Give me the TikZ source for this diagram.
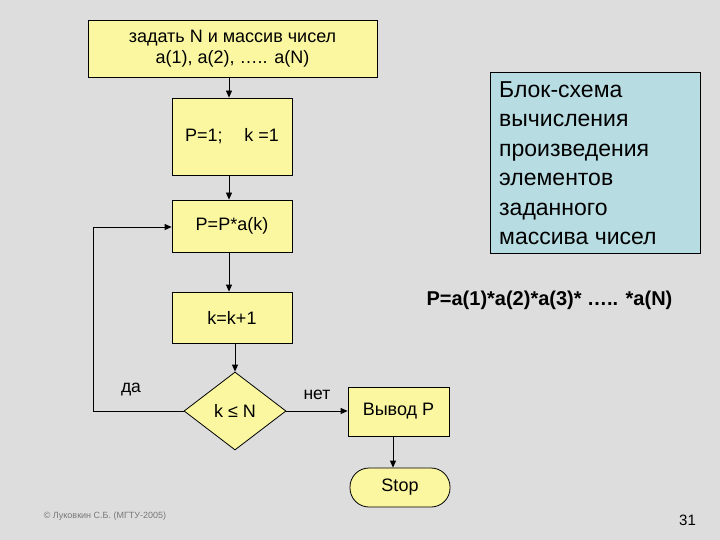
\documentclass[tikz,border=0pt]{standalone}
\usepackage{fontspec}
\setmainfont{Liberation Sans}
\usetikzlibrary{shapes.geometric,arrows.meta}
\definecolor{bg}{RGB}{221,221,221}
\definecolor{ylw}{RGB}{250,247,160}
\definecolor{blu}{RGB}{183,221,227}
\definecolor{foot}{RGB}{120,120,120}
\tikzset{
  blk/.style={draw=black, line width=0.8pt, fill=ylw, inner sep=0pt, font=\fontsize{18}{21}\selectfont, align=center},
  con/.style={line width=0.8pt, -{Triangle[length=7pt,width=6pt]}},
  lbl/.style={font=\fontsize{17.5}{20}\selectfont, inner sep=0pt}
}
\begin{document}
\begin{tikzpicture}[x=1pt,y=-1pt]
\fill[bg] (0,0) rectangle (720,540);
\useasboundingbox (0,0) rectangle (720,540);

\node[blk, minimum width=289pt, minimum height=57pt] (b1) at (232.5,48.5) {задать N и массив чисел\\a(1), a(2), ….. a(N)};
\node[blk, minimum width=120pt, minimum height=77pt] (b2) at (232,136.5) {P=1;\hspace{1.2em}k =1};
\node[blk, minimum width=120pt, minimum height=52pt] (b3) at (232,226) {P=P*a(k)};
\node[blk, minimum width=120pt, minimum height=51pt] (b4) at (232,317.5) {k=k+1};
\node[blk, shape=diamond, minimum width=102pt, minimum height=78pt] (d) at (235,411) {k ≤ N};
\node[blk, minimum width=101pt, minimum height=49pt] (out) at (398.5,411.5) {Вывод P};
\node[blk, minimum width=100pt, minimum height=39pt, rounded corners=19pt] (stop) at (400,487.5) {Stop};

\node[draw=black, line width=0.8pt, fill=blu, minimum width=210pt, minimum height=181pt, inner sep=0pt] (info) at (595,162.5) {};
\node[anchor=north west, inner sep=0pt, align=left, font=\fontsize{23}{29.4}\selectfont] (infot) at (499,81.5) {Блок-схема\\вычисления\\произведения\\элементов\\заданного\\массива чисел};

\node[font=\bfseries\fontsize{20}{24}\selectfont, inner sep=0pt] (formula) at (549.5,300) {P=a(1)*a(2)*a(3)* ….. *a(N)};

\node[lbl] (da) at (131,390) {да};
\node[lbl] (net) at (317,395) {нет};

\node[font=\fontsize{9}{10}\selectfont, text=foot, inner sep=0pt] (footer) at (105,516) {© Луковкин С.Б. (МГТУ-2005)};
\node[font=\fontsize{15}{17}\selectfont, inner sep=0pt] (num) at (687.5,520) {31};

\coordinate (c1) at (93,411);
\coordinate (c2) at (93,227);

\draw[con] (b1.south -| 229,0) -- (b2.north -| 229,0);
\draw[con] (b2.south -| 229,0) -- (b3.north -| 229,0);
\draw[con] (b3.south -| 229,0) -- (b4.north -| 229,0);
\draw[con] (b4.south -| d.north) -- (d.north);
\draw[con] (d.west) -- (c1) -- (c2) -- (b3.west |- c2);
\draw[con] (d.east) -- (out.west |- d.east);
\draw[con] (out.south -| 393,0) -- (stop.north -| 393,0);
\end{tikzpicture}
\end{document}
